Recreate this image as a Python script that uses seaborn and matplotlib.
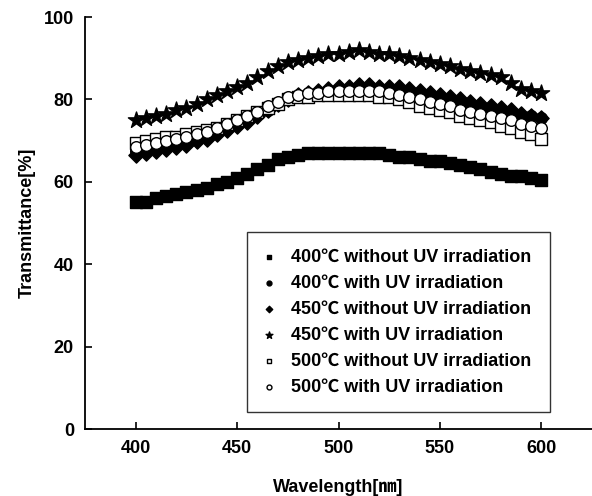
import numpy as np
import pandas as pd
import matplotlib
matplotlib.use("Agg")
import matplotlib.pyplot as plt
import seaborn as sns

# wavelength grid (nm), one point every 5 nm
wavelength = list(range(400, 605, 5))

t400_no_uv = [55, 55, 56, 56.5, 57, 57.5, 58, 58.5, 59.5, 60, 61, 62, 63, 64, 65.5, 66,
              66.5, 67, 67, 67, 67, 67, 67, 67, 67, 66.5, 66, 66, 65.5, 65, 65, 64.5,
              64, 63.5, 63, 62.5, 62, 61.5, 61.5, 61, 60.5]
t400_uv = [67.5, 68, 68.5, 69, 69.5, 70, 70.5, 71, 72, 73, 74, 75, 76.5, 77.5, 79, 80,
           80.5, 81, 81.5, 82, 82, 82.5, 82.5, 82.5, 82.5, 82, 82, 81.5, 81, 80.5, 80,
           79.5, 79, 78.5, 78, 77.5, 77, 76.5, 76, 76, 75.5]
t450_no_uv = [66.5, 67, 67.5, 68, 68.5, 69, 70, 70.5, 71.5, 72.5, 73.5, 74.5, 76, 77.5,
              79, 80, 81, 81.5, 82, 82.5, 83, 83, 83.5, 83.5, 83, 83, 83, 82.5, 82, 81.5,
              81, 80.5, 80, 79.5, 79, 78.5, 78, 77.5, 76.5, 76, 75.5]
t450_uv = [75, 75.5, 76, 76.5, 77.5, 78, 79, 80, 81, 82, 83, 84, 85.5, 87, 88, 89, 89.5,
           90, 90.5, 91, 91, 91.5, 92, 91.5, 91, 91, 90.5, 90, 89.5, 89, 88.5, 88, 87.5,
           87, 86.5, 86, 85.5, 84, 82.5, 82, 81.5]
t500_no_uv = [69.5, 70, 70.5, 71, 71, 71.5, 72, 72.5, 73, 74, 75, 76, 77, 78, 79, 80,
              80.5, 80.5, 81, 81, 81, 81, 81, 81, 80.5, 80.5, 80, 79.5, 78.5, 78, 77.5,
              77, 76, 75.5, 75, 74.5, 73.5, 73, 72, 71.5, 70.5]
t500_uv = [68.5, 69, 69.5, 70, 70.5, 71, 71.5, 72, 73, 74, 75, 76, 77, 78.5, 79.5, 80.5,
           81, 81.5, 81.5, 82, 82, 82, 82, 82, 82, 81.5, 81, 80.5, 80, 79.5, 79, 78.5,
           77.5, 77, 76.5, 76, 75.5, 75, 74, 73.5, 73]

labels = ["400℃ without UV irradiation", "400℃ with UV irradiation",
          "450℃ without UV irradiation", "450℃ with UV irradiation",
          "500℃ without UV irradiation", "500℃ with UV irradiation"]
series = [t400_no_uv, t400_uv, t450_no_uv, t450_uv, t500_no_uv, t500_uv]
markers = ["s", "o", "D", "*", "s", "o"]
sizes = [65, 70, 60, 150, 65, 70]
faces = ["black", "black", "black", "black", "white", "white"]

sns.set_theme(style="white")
plt.rcParams["font.family"] = ["Liberation Sans", "Noto Sans CJK JP"]
plt.rcParams["font.weight"] = "bold"
for key in ["text.color", "axes.labelcolor", "xtick.color", "ytick.color"]:
    plt.rcParams[key] = "black"

fig = plt.figure(figsize=(5.92, 4.96), dpi=100)
ax = fig.add_axes([0.1436, 0.135, 0.8564, 0.8306])

for lab, vals, m, s, fc in zip(labels, series, markers, sizes, faces):
    df = pd.DataFrame({"wl": wavelength, "T": vals})
    sns.scatterplot(data=df, x="wl", y="T", marker=m, s=s, color=fc,
                    edgecolor="black", linewidth=1.0, label=lab, ax=ax, zorder=3)

ax.set_xlim(375, 625)
ax.set_ylim(0, 100)
ax.set_xticks([400, 450, 500, 550, 600])
ax.set_yticks([0, 20, 40, 60, 80, 100])
ax.tick_params(direction="in", length=5, width=1.2, colors="black",
               labelsize=13, bottom=True, left=True, pad=8)
for t in ax.get_xticklabels() + ax.get_yticklabels():
    t.set_fontweight("bold")

ax.set_xlabel("Wavelength[㎚]", fontsize=13, fontweight="bold", labelpad=16)
ax.set_ylabel("Transmittance[%]", fontsize=13, fontweight="bold", labelpad=6)

for side in ["top", "right"]:
    ax.spines[side].set_visible(False)
for side in ["left", "bottom"]:
    ax.spines[side].set_color("black")
    ax.spines[side].set_linewidth(1.3)

leg = ax.legend(loc="upper left", bbox_to_anchor=(0.3195, 0.478, 0.5975, 0.0),
                mode="expand", frameon=True, fancybox=False, markerscale=0.42,
                prop={"size": 13, "weight": "bold"}, labelspacing=0.5,
                borderpad=0.9, handlelength=0.6, handletextpad=0.95,
                borderaxespad=0)
leg.get_frame().set_edgecolor("black")
leg.get_frame().set_linewidth(1.0)

fig.savefig("out.png", dpi=100)
